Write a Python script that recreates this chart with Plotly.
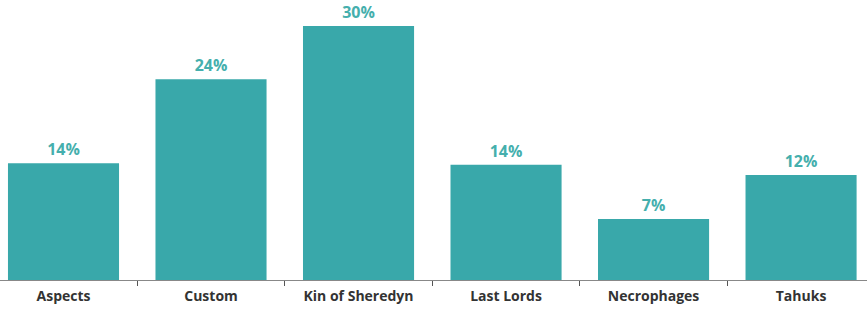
import plotly.graph_objects as go

categories = ["Aspects", "Custom", "Kin of Sheredyn", "Last Lords", "Necrophages", "Tahuks"]
values = [13.8, 23.7, 30.0, 13.6, 7.2, 12.4]
labels = [f"{round(v)}%" for v in values]

fig = go.Figure(go.Bar(
    x=categories, y=values, text=labels, textposition="outside",
    marker=dict(color="#39A8AA", line=dict(width=0)),
    width=0.753, cliponaxis=False,
    textfont=dict(family="Open Sans", size=16, color="#45AFAD", weight="bold"),
))
fig.update_layout(
    width=867, height=311, margin=dict(l=0, r=0, t=0, b=31),
    paper_bgcolor="white", plot_bgcolor="white", showlegend=False,
    xaxis=dict(range=[-0.4305, 5.447], showline=True, linecolor="#888", linewidth=1,
               ticks="outside", tickson="boundaries", ticklen=5, tickcolor="#555",
               ticklabelstandoff=3,
               tickfont=dict(family="Open Sans", size=14, color="#333", weight="bold"),
               showgrid=False),
    yaxis=dict(range=[0, 33.07], visible=False, showgrid=False),
    uniformtext=dict(mode=False),
)
fig.write_html("out.html")
